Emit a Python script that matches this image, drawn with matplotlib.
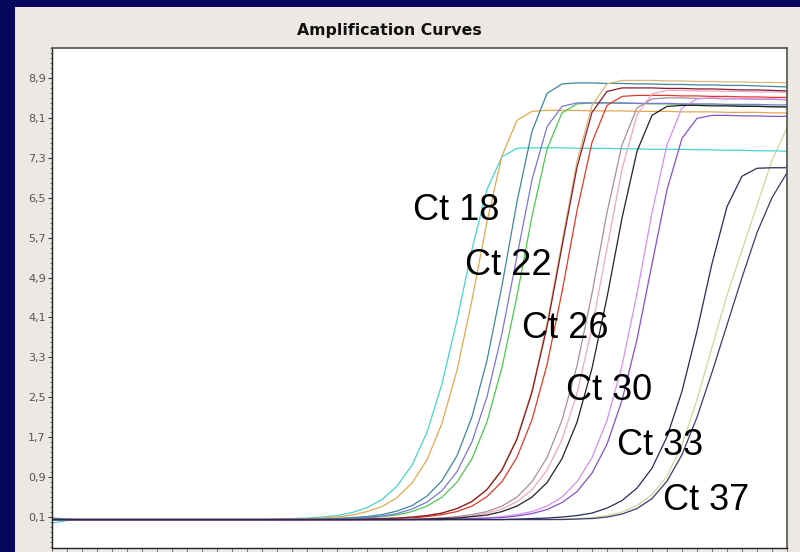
import numpy as np
import matplotlib
matplotlib.use("Agg")
import matplotlib.pyplot as plt
from matplotlib.patches import Rectangle
from matplotlib.ticker import FixedLocator, MultipleLocator

# ---- data: fluorescence per cycle for each well ----
cycles = np.arange(1, 51)

well_cyan = [
    -0.02, 0.03, 0.05, 0.05, 0.05, 0.05, 0.05, 0.05, 0.05, 0.05,
    0.05, 0.05, 0.05, 0.05, 0.05, 0.06, 0.07, 0.08, 0.10, 0.13,
    0.19, 0.29, 0.45, 0.72, 1.14, 1.80, 2.77, 4.05, 5.47, 6.67,
    7.32, 7.49, 7.50, 7.50, 7.50, 7.49, 7.49, 7.49, 7.48, 7.48,
    7.47, 7.47, 7.47, 7.46, 7.46, 7.45, 7.45, 7.44, 7.44, 7.43]
well_orange = [
    0.06, 0.05, 0.05, 0.05, 0.05, 0.05, 0.05, 0.05, 0.05, 0.05,
    0.05, 0.05, 0.05, 0.05, 0.05, 0.05, 0.06, 0.07, 0.08, 0.10,
    0.14, 0.21, 0.31, 0.49, 0.78, 1.25, 1.98, 3.04, 4.45, 6.02,
    7.34, 8.05, 8.23, 8.25, 8.25, 8.25, 8.24, 8.24, 8.24, 8.23,
    8.23, 8.23, 8.22, 8.22, 8.22, 8.21, 8.21, 8.21, 8.20, 8.20]
well_teal = [
    0.08, 0.06, 0.05, 0.05, 0.05, 0.05, 0.05, 0.05, 0.05, 0.05,
    0.05, 0.05, 0.05, 0.05, 0.05, 0.05, 0.05, 0.05, 0.06, 0.07,
    0.09, 0.11, 0.15, 0.22, 0.33, 0.52, 0.83, 1.33, 2.11, 3.24,
    4.74, 6.42, 7.83, 8.59, 8.78, 8.80, 8.80, 8.79, 8.79, 8.78,
    8.78, 8.77, 8.77, 8.76, 8.76, 8.75, 8.75, 8.74, 8.73, 8.72]
well_slate = [
    0.05, 0.05, 0.05, 0.05, 0.05, 0.05, 0.05, 0.05, 0.05, 0.05,
    0.05, 0.05, 0.05, 0.05, 0.05, 0.05, 0.05, 0.05, 0.06, 0.07,
    0.08, 0.09, 0.12, 0.17, 0.26, 0.40, 0.63, 1.01, 1.61, 2.51,
    3.78, 5.33, 6.86, 7.92, 8.33, 8.40, 8.40, 8.40, 8.40, 8.39,
    8.39, 8.39, 8.38, 8.38, 8.38, 8.37, 8.37, 8.37, 8.36, 8.36]
well_green = [
    0.05, 0.05, 0.05, 0.05, 0.05, 0.05, 0.05, 0.05, 0.05, 0.05,
    0.05, 0.05, 0.05, 0.05, 0.05, 0.05, 0.05, 0.05, 0.05, 0.06,
    0.07, 0.08, 0.11, 0.14, 0.21, 0.32, 0.50, 0.80, 1.27, 2.01,
    3.10, 4.53, 6.13, 7.47, 8.20, 8.38, 8.40, 8.40, 8.39, 8.39,
    8.38, 8.38, 8.37, 8.36, 8.36, 8.35, 8.34, 8.34, 8.33, 8.32]
well_tan = [
    0.05, 0.05, 0.05, 0.05, 0.05, 0.05, 0.05, 0.05, 0.05, 0.05,
    0.05, 0.05, 0.05, 0.05, 0.05, 0.05, 0.05, 0.05, 0.05, 0.05,
    0.05, 0.06, 0.07, 0.08, 0.10, 0.13, 0.18, 0.27, 0.42, 0.66,
    1.06, 1.69, 2.64, 3.98, 5.61, 7.23, 8.35, 8.78, 8.85, 8.85,
    8.85, 8.84, 8.84, 8.83, 8.83, 8.82, 8.82, 8.81, 8.81, 8.80]
well_maroon = [
    0.05, 0.05, 0.05, 0.05, 0.05, 0.05, 0.05, 0.05, 0.05, 0.05,
    0.05, 0.05, 0.05, 0.05, 0.05, 0.05, 0.05, 0.05, 0.05, 0.05,
    0.05, 0.06, 0.07, 0.08, 0.10, 0.13, 0.18, 0.27, 0.41, 0.65,
    1.04, 1.66, 2.60, 3.91, 5.52, 7.11, 8.21, 8.63, 8.70, 8.70,
    8.70, 8.69, 8.69, 8.68, 8.68, 8.67, 8.66, 8.66, 8.65, 8.64]
well_red = [
    0.05, 0.05, 0.05, 0.05, 0.05, 0.05, 0.05, 0.05, 0.05, 0.05,
    0.05, 0.05, 0.05, 0.05, 0.05, 0.05, 0.05, 0.05, 0.05, 0.05,
    0.05, 0.05, 0.06, 0.07, 0.08, 0.11, 0.15, 0.21, 0.32, 0.51,
    0.81, 1.30, 2.05, 3.15, 4.61, 6.24, 7.61, 8.35, 8.53, 8.55,
    8.55, 8.55, 8.54, 8.54, 8.53, 8.53, 8.52, 8.52, 8.51, 8.51]
well_rose = [
    0.05, 0.05, 0.05, 0.05, 0.05, 0.05, 0.05, 0.05, 0.05, 0.05,
    0.05, 0.05, 0.05, 0.05, 0.05, 0.05, 0.05, 0.05, 0.05, 0.05,
    0.05, 0.05, 0.05, 0.05, 0.06, 0.07, 0.08, 0.11, 0.15, 0.21,
    0.32, 0.50, 0.81, 1.29, 2.04, 3.13, 4.58, 6.20, 7.56, 8.30,
    8.48, 8.50, 8.50, 8.49, 8.49, 8.48, 8.48, 8.47, 8.47, 8.46]
well_pink = [
    0.05, 0.05, 0.05, 0.05, 0.05, 0.05, 0.05, 0.05, 0.05, 0.05,
    0.05, 0.05, 0.05, 0.05, 0.05, 0.05, 0.05, 0.05, 0.05, 0.05,
    0.05, 0.05, 0.05, 0.05, 0.06, 0.07, 0.08, 0.09, 0.12, 0.18,
    0.26, 0.41, 0.65, 1.04, 1.65, 2.58, 3.89, 5.49, 7.07, 8.16,
    8.58, 8.65, 8.65, 8.64, 8.64, 8.63, 8.63, 8.62, 8.62, 8.61]
well_black = [
    0.05, 0.05, 0.05, 0.05, 0.05, 0.05, 0.05, 0.05, 0.05, 0.05,
    0.05, 0.05, 0.05, 0.05, 0.05, 0.05, 0.05, 0.05, 0.05, 0.05,
    0.05, 0.05, 0.05, 0.05, 0.05, 0.06, 0.07, 0.08, 0.11, 0.14,
    0.21, 0.32, 0.50, 0.79, 1.27, 2.00, 3.08, 4.50, 6.09, 7.43,
    8.15, 8.33, 8.35, 8.35, 8.34, 8.34, 8.33, 8.33, 8.32, 8.32]
well_orchid = [
    0.05, 0.05, 0.05, 0.05, 0.05, 0.05, 0.05, 0.05, 0.05, 0.05,
    0.05, 0.05, 0.05, 0.05, 0.05, 0.05, 0.05, 0.05, 0.05, 0.05,
    0.05, 0.05, 0.05, 0.05, 0.05, 0.05, 0.05, 0.06, 0.07, 0.08,
    0.11, 0.15, 0.21, 0.32, 0.50, 0.81, 1.29, 2.04, 3.13, 4.58,
    6.20, 7.56, 8.30, 8.48, 8.50, 8.49, 8.49, 8.48, 8.48, 8.47]
well_purple = [
    0.05, 0.05, 0.05, 0.05, 0.05, 0.05, 0.05, 0.05, 0.05, 0.05,
    0.05, 0.05, 0.05, 0.05, 0.05, 0.05, 0.05, 0.05, 0.05, 0.05,
    0.05, 0.05, 0.05, 0.05, 0.05, 0.05, 0.05, 0.06, 0.07, 0.08,
    0.09, 0.12, 0.17, 0.25, 0.39, 0.61, 0.98, 1.56, 2.44, 3.66,
    5.17, 6.66, 7.69, 8.09, 8.15, 8.15, 8.14, 8.14, 8.13, 8.13]
well_navy = [
    0.05, 0.05, 0.05, 0.05, 0.05, 0.05, 0.05, 0.05, 0.05, 0.05,
    0.05, 0.05, 0.05, 0.05, 0.05, 0.05, 0.05, 0.05, 0.05, 0.05,
    0.05, 0.05, 0.05, 0.05, 0.05, 0.05, 0.05, 0.05, 0.05, 0.05,
    0.05, 0.06, 0.07, 0.08, 0.10, 0.13, 0.18, 0.28, 0.43, 0.68,
    1.08, 1.71, 2.62, 3.83, 5.18, 6.32, 6.93, 7.09, 7.10, 7.10]
well_lime = [
    0.05, 0.05, 0.05, 0.05, 0.05, 0.05, 0.05, 0.05, 0.05, 0.05,
    0.05, 0.05, 0.05, 0.05, 0.05, 0.05, 0.05, 0.05, 0.05, 0.05,
    0.05, 0.05, 0.05, 0.05, 0.05, 0.05, 0.05, 0.05, 0.05, 0.05,
    0.05, 0.05, 0.05, 0.05, 0.06, 0.07, 0.09, 0.13, 0.20, 0.33,
    0.55, 0.92, 1.55, 2.45, 3.50, 4.55, 5.45, 6.35, 7.25, 7.90]
well_indigo = [
    0.05, 0.05, 0.05, 0.05, 0.05, 0.05, 0.05, 0.05, 0.05, 0.05,
    0.05, 0.05, 0.05, 0.05, 0.05, 0.05, 0.05, 0.05, 0.05, 0.05,
    0.05, 0.05, 0.05, 0.05, 0.05, 0.05, 0.05, 0.05, 0.05, 0.05,
    0.05, 0.05, 0.05, 0.05, 0.05, 0.06, 0.07, 0.10, 0.16, 0.27,
    0.47, 0.82, 1.35, 2.10, 3.00, 3.95, 4.90, 5.80, 6.50, 7.00]

ytick_values = [0.1, 0.9, 1.7, 2.5, 3.3, 4.1, 4.9, 5.7, 6.5, 7.3, 8.1, 8.9]
ytick_labels = ["0,1", "0,9", "1,7", "2,5", "3,3", "4,1",
                "4,9", "5,7", "6,5", "7,3", "8,1", "8,9"]
ct_labels = ["Ct 18", "Ct 22", "Ct 26", "Ct 30", "Ct 33", "Ct 37"]

# ---- styling ----
wells = [
    (well_lime, "#c9d99a"),
    (well_cyan, "#45d6cf"),
    (well_orange, "#e2a84e"),
    (well_green, "#4cc84c"),
    (well_slate, "#7876d6"),
    (well_teal, "#3d879f"),
    (well_tan, "#d9b878"),
    (well_red, "#e23a2a"),
    (well_pink, "#f0a6c6"),
    (well_rose, "#a89098"),
    (well_orchid, "#d88ef0"),
    (well_purple, "#8650c8"),
    (well_maroon, "#8b1a2a"),
    (well_black, "#222222"),
    (well_indigo, "#3a3a70"),
    (well_navy, "#2a2a58"),
]
# anchor points (cycle, fluorescence) for the left/baseline of each Ct text
ct_positions = [(25.07, 6.05), (28.53, 4.95), (32.33, 3.69),
                (35.27, 2.44), (38.67, 1.34), (41.73, 0.24)]

W, H = 800, 552
fig = plt.figure(figsize=(W / 100, H / 100), dpi=100)
fig.patch.set_facecolor("#07075c")
panel = Rectangle((15 / W, 0), 1 - 15 / W, 1 - 7 / H,
                  transform=fig.transFigure, facecolor="#ece8e4",
                  edgecolor="none", zorder=-10)
fig.add_artist(panel)

ax = fig.add_axes([52 / W, 4 / H, (787 - 52) / W, (548 - 48) / H])
ax.set_zorder(1)
ax.set_facecolor("white")

for values, color in wells:
    ax.plot(cycles, values, color=color, lw=0.9, solid_joinstyle="round")

ax.set_xlim(1, 50)
ax.set_ylim(-0.52, 9.5)

ax.yaxis.set_major_locator(FixedLocator(ytick_values))
ax.set_yticklabels(ytick_labels)
ax.yaxis.set_minor_locator(MultipleLocator(0.1))
ax.xaxis.set_major_locator(MultipleLocator(1))
ax.set_xticklabels([])
ax.tick_params(axis="y", which="major", length=3, width=0.8, color="#404040",
               labelsize=8, labelcolor="#555555", pad=1.5)
ax.tick_params(axis="y", which="minor", length=1.5, width=0.6, color="#606060")
ax.tick_params(axis="x", which="major", length=4, width=0.6, color="#606060")

for side in ["left", "bottom"]:
    ax.spines[side].set_color("#202020")
    ax.spines[side].set_linewidth(1.0)
for side in ["top", "right"]:
    ax.spines[side].set_color("#505050")
    ax.spines[side].set_linewidth(1.2)

fig.text(389 / W, 1 - 31 / H, "Amplification Curves", ha="center", va="center",
         fontsize=11.3, fontweight="bold", color="#111111", family="DejaVu Sans")

for label, (cx, cy) in zip(ct_labels, ct_positions):
    ax.text(cx, cy, label, ha="left", va="baseline", fontsize=26,
            family=["Liberation Sans", "DejaVu Sans"], color="black", zorder=5)

fig.savefig("out.png", dpi=100, facecolor=fig.get_facecolor())
